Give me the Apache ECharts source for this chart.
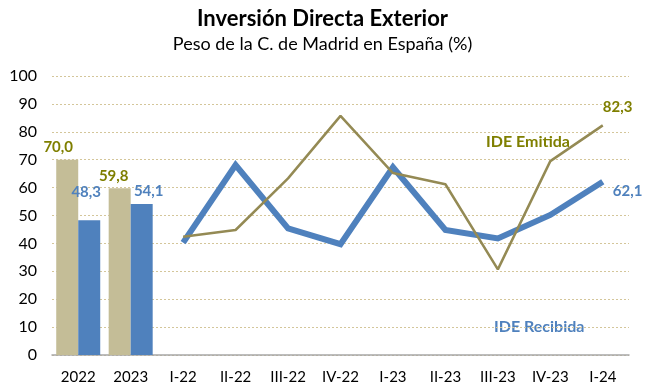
<!DOCTYPE html>
<html>
<head>
<meta charset="utf-8">
<script src="https://cdn.jsdelivr.net/npm/echarts@6/dist/echarts.min.js"></script>
<style>
  html, body { margin: 0; padding: 0; background: #fff; }
  #chart { width: 645px; height: 388px; }
</style>
</head>
<body>
<div id="chart"></div>
<script>
// Categories: two annual totals followed by quarterly values
const categories = ['2022', '2023', 'I-22', 'II-22', 'III-22', 'IV-22', 'I-23', 'II-23', 'III-23', 'IV-23', 'I-24'];

// Annual bars (% weight of Madrid in Spain)
const annualEmitida  = [70.0, 59.8];
const annualRecibida = [48.3, 54.1];

// Quarterly lines
const quarterEmitida  = [42.4, 44.8, 63.3, 85.7, 65.2, 61.2, 30.7, 69.5, 82.3];
const quarterRecibida = [40.3, 68.1, 45.4, 39.7, 67.3, 44.8, 41.8, 50.2, 62.1];

const yTicks = [0, 10, 20, 30, 40, 50, 60, 70, 80, 90, 100];

const OLIVE_TEXT = '#7f7f00';
const OLIVE_LINE = '#948a54';
const BEIGE = '#c4bd97';
const BLUE = '#4f81bd';
const FONT = 'Lato, "Open Sans", sans-serif';

const nQ = quarterEmitida.length;
const pad = (arr, before, after) => Array(before).fill(null).concat(arr, Array(after).fill(null));
const fmt = v => Number(v).toFixed(1).replace('.', ',');

const barLabel = (color, offset) => ({
  show: true, position: 'top', offset: offset,
  color: color, fontFamily: FONT, fontWeight: 'bold', fontSize: 15,
  formatter: p => fmt(p.value)
});

const emitidaBars = pad(annualEmitida, 0, nQ).map((v, i) => {
  if (v === null) return null;
  const offs = [[-9, 0], [-6, 0]];
  return { value: v, label: barLabel(OLIVE_TEXT, offs[i]) };
});
const recibidaBars = pad(annualRecibida, 0, nQ).map((v, i) => {
  if (v === null) return null;
  const offs = [[-3, -16], [7, 0]];
  return { value: v, label: barLabel(BLUE, offs[i]) };
});

const emitidaLine = pad(quarterEmitida, 2, 0);
const recibidaLine = pad(quarterRecibida, 2, 0);

const chart = echarts.init(document.getElementById('chart'), null, { renderer: 'canvas' });
chart.setOption({
  backgroundColor: '#fff',
  animation: false,
  title: {
    text: 'Inversión Directa Exterior',
    subtext: 'Peso de la C. de Madrid en España (%)',
    left: 'center', top: 3, itemGap: 5,
    textStyle: { fontFamily: FONT, fontWeight: 'bold', fontSize: 22, color: '#000' },
    subtextStyle: { fontFamily: FONT, fontSize: 18, color: '#000' }
  },
  grid: { left: 52, right: 16, top: 76, bottom: 33, containLabel: false },
  xAxis: {
    type: 'category', data: categories,
    axisLine: { lineStyle: { color: '#a6a6a6', width: 1.5 } },
    axisTick: { show: false },
    axisLabel: { color: '#000', fontFamily: FONT, fontSize: 15, margin: 15 }
  },
  yAxis: {
    type: 'value', min: yTicks[0], max: yTicks[yTicks.length - 1], interval: 10,
    axisLine: { show: false }, axisTick: { show: false },
    axisLabel: { color: '#000', fontFamily: FONT, fontSize: 16, margin: 15 },
    splitLine: { lineStyle: { color: '#d4c69a', type: [2, 2], width: 1 } }
  },
  series: [
    { name: 'Emitida anual', type: 'bar', data: emitidaBars, barWidth: 22, barGap: '0%',
      itemStyle: { color: BEIGE }, z: 2 },
    { name: 'Recibida anual', type: 'bar', data: recibidaBars, barWidth: 22, barGap: '0%',
      itemStyle: { color: BLUE }, z: 2 },
    { name: 'IDE Recibida', type: 'line', data: recibidaLine, showSymbol: false, symbol: 'none',
      lineStyle: { color: BLUE, width: 6, cap: 'butt', join: 'miter' }, z: 3,
      endLabel: { show: true, distance: 10, offset: [0, 9], color: BLUE,
        fontFamily: FONT, fontWeight: 'bold', fontSize: 15, formatter: p => fmt(p.value) } },
    { name: 'IDE Emitida', type: 'line', data: emitidaLine, showSymbol: false, symbol: 'none',
      lineStyle: { color: OLIVE_LINE, width: 2.5 }, z: 4,
      endLabel: { show: true, distance: 0, offset: [0, -18], color: OLIVE_TEXT,
        fontFamily: FONT, fontWeight: 'bold', fontSize: 15, formatter: p => fmt(p.value) } }
  ],
  graphic: [
    { type: 'text', left: 486, top: 134,
      style: { text: 'IDE Emitida', fill: OLIVE_TEXT, font: 'bold 16px ' + FONT } },
    { type: 'text', left: 494, top: 319,
      style: { text: 'IDE Recibida', fill: BLUE, font: 'bold 16px ' + FONT } }
  ]
});
</script>
</body>
</html>
